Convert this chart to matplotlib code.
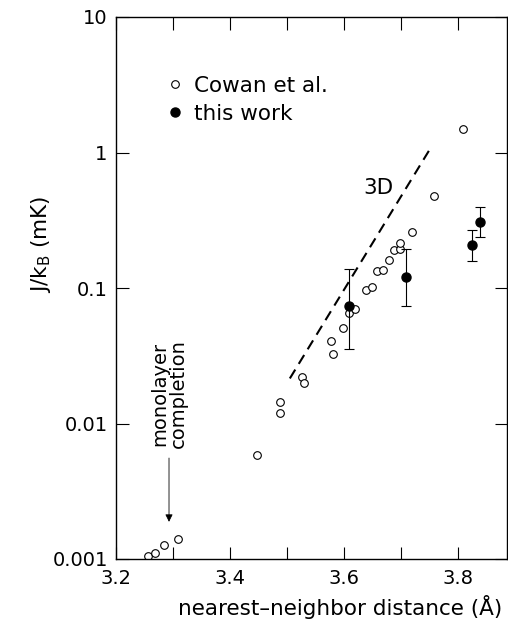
import numpy as np
import matplotlib.pyplot as plt

plt.rcParams['font.family'] = ['DejaVu Sans']

# Cowan et al. (open circles)
cowan_x = [3.256, 3.268, 3.285, 3.308, 3.447, 3.488, 3.488, 3.526, 3.530, 3.577,
           3.580, 3.598, 3.609, 3.620, 3.638, 3.649, 3.658, 3.669, 3.679, 3.688,
           3.698, 3.699, 3.719, 3.758, 3.808]
cowan_y = [0.00106, 0.00111, 0.00127, 0.00141, 0.00582, 0.0143, 0.0119, 0.0222, 0.0200, 0.0406,
           0.0324, 0.0509, 0.0657, 0.0700, 0.0967, 0.102, 0.133, 0.136, 0.162, 0.191,
           0.193, 0.216, 0.260, 0.477, 1.50]

# this work (filled circles with error bars)
work_x = [3.609, 3.708, 3.825, 3.839]
work_y = [0.0736, 0.1206, 0.2076, 0.305]
work_lo = [0.0353, 0.0733, 0.157, 0.237]
work_hi = [0.137, 0.194, 0.269, 0.398]

# 3D line
line3d_x = [3.505, 3.752]
line3d_y = [0.0215, 1.08]

xticks = [3.2, 3.3, 3.4, 3.5, 3.6, 3.7, 3.8]
xticklabels = ['3.2', '', '3.4', '', '3.6', '', '3.8']
yticks = [0.001, 0.01, 0.1, 1, 10]
yticklabels = ['0.001', '0.01', '0.1', '1', '10']

fig = plt.figure(figsize=(5.08, 6.22), dpi=100)
ax = fig.add_axes([116/508, 63/622, 391/508, 542/622])

ax.set_yscale('log')
ax.set_xlim(3.2, 3.886)
ax.set_ylim(0.001, 10)

ax.plot(line3d_x, line3d_y, color='black', lw=1.5, dashes=(5, 3.2))

ax.plot(cowan_x, cowan_y, 'o', ms=5.5, mfc='white', mec='black', mew=0.8,
        label='Cowan et al.')

wy = np.array(work_y)
yerr = [wy - np.array(work_lo), np.array(work_hi) - wy]
ax.errorbar(work_x, work_y, yerr=yerr, fmt='none', ecolor='black', elinewidth=0.8,
            capsize=3.5, capthick=0.8)
ax.plot(work_x, work_y, 'o', ms=6.5, mfc='black', mec='black', label='this work')

ax.text(3.660, 0.547, '3D', fontsize=15.5, ha='center', va='center')

ax.annotate('', xy=(3.293, 0.00188), xytext=(3.293, 0.00556),
            arrowprops=dict(arrowstyle='-|>', color='black', lw=0.6,
                            mutation_scale=11, shrinkA=0, shrinkB=0))
ax.text(3.293, 0.0066, 'monolayer\ncompletion', rotation=90, fontsize=14,
        ha='center', va='bottom', multialignment='center', linespacing=1.0)

ax.set_xticks(xticks)
ax.set_xticklabels(xticklabels)
ax.set_yticks(yticks)
ax.set_yticklabels(yticklabels)
ax.minorticks_off()
ax.tick_params(direction='in', length=9, width=0.8, top=True, right=True,
               labelsize=14)
ax.tick_params(axis='x', pad=7)
ax.tick_params(axis='y', pad=6)
for s in ax.spines.values():
    s.set_linewidth(1.0)

ax.set_xlabel('nearest\u2013neighbor distance (Å)', fontsize=15.5)
ax.xaxis.set_label_coords(0.574, -0.066)
ax.set_ylabel(r'J/k$_\mathregular{B}$ (mK)', fontsize=15.5)
ax.yaxis.set_label_coords(-0.16, 0.58)

ax.legend(loc='upper left', bbox_to_anchor=(0.136, 0.892), frameon=False,
          fontsize=15.5, numpoints=1, handlelength=0.55, handletextpad=0.62,
          labelspacing=0.38, borderpad=0, borderaxespad=0)

fig.savefig('out.png', dpi=100)
